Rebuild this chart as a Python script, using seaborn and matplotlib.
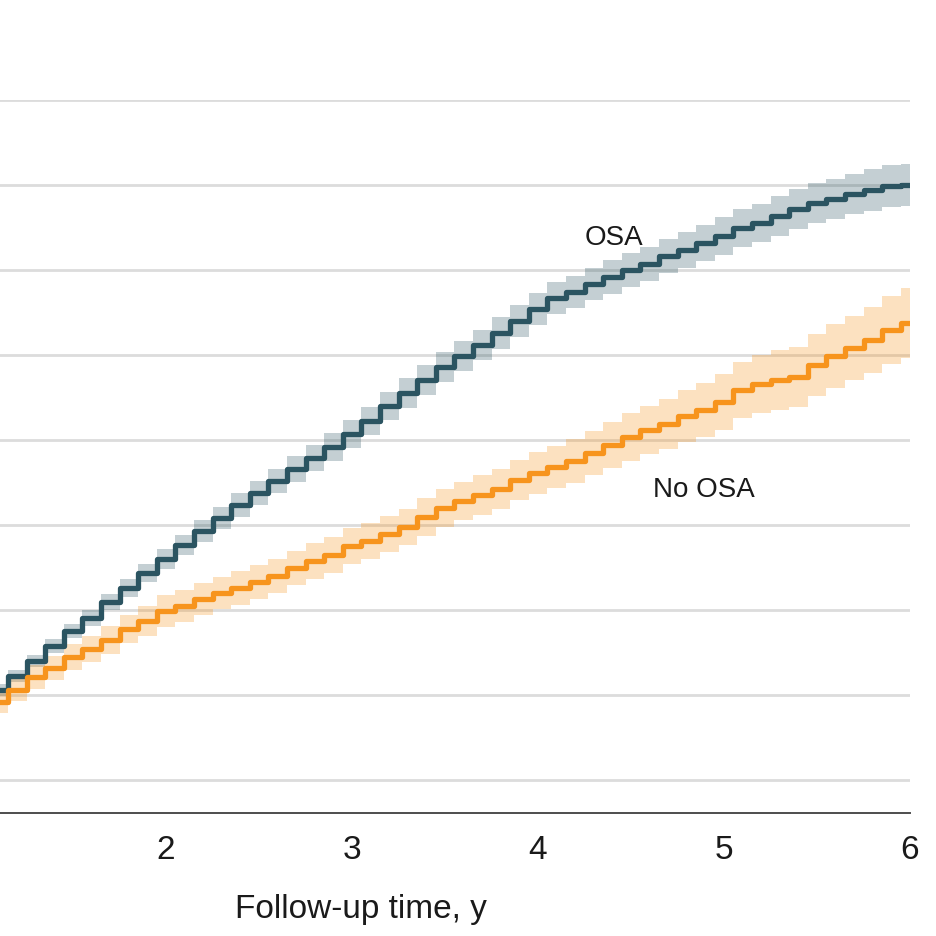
import numpy as np
import pandas as pd
import matplotlib
matplotlib.use("Agg")
import matplotlib.pyplot as plt
import seaborn as sns

# -----------------------------
# DATA
# -----------------------------
years = [1.1, 1.2, 1.3, 1.4, 1.5, 1.6, 1.7, 1.8, 1.9, 2.0,
         2.1, 2.2, 2.3, 2.4, 2.5, 2.6, 2.7, 2.8, 2.9, 3.0,
         3.1, 3.2, 3.3, 3.4, 3.5, 3.6, 3.7, 3.8, 3.9, 4.0,
         4.1, 4.2, 4.3, 4.4, 4.5, 4.6, 4.7, 4.8, 4.9, 5.0,
         5.1, 5.2, 5.3, 5.4, 5.5, 5.6, 5.7, 5.8, 5.9, 6.0]

osa = [5.29, 6.12, 7.00, 7.88, 8.76, 9.53, 10.47, 11.29, 12.18, 13.00,
       13.82, 14.65, 15.41, 16.18, 16.88, 17.59, 18.29, 18.94, 19.59, 20.35,
       21.12, 22.00, 22.76, 23.53, 24.29, 24.94, 25.59, 26.29, 27.00, 27.71,
       28.35, 28.71, 29.18, 29.59, 30.00, 30.35, 30.82, 31.18, 31.59, 32.00,
       32.47, 32.76, 33.18, 33.59, 33.94, 34.18, 34.47, 34.71, 34.94, 35.00]

no_osa = [4.59, 5.29, 6.06, 6.59, 7.24, 7.71, 8.24, 8.88, 9.35, 9.94,
          10.24, 10.65, 11.00, 11.29, 11.65, 12.00, 12.47, 12.88, 13.24, 13.76,
          14.06, 14.47, 14.88, 15.47, 16.00, 16.41, 16.76, 17.12, 17.65, 18.06,
          18.41, 18.76, 19.24, 19.71, 20.18, 20.59, 20.94, 21.41, 21.76, 22.24,
          22.94, 23.29, 23.53, 23.71, 24.41, 24.94, 25.41, 25.88, 26.47, 26.88]

# half-width of the 95% CI bands
osa_ci = [0.35, 0.35, 0.35, 0.41, 0.41, 0.47, 0.47, 0.53, 0.53, 0.59,
          0.59, 0.65, 0.65, 0.71, 0.71, 0.71, 0.76, 0.76, 0.82, 0.82,
          0.82, 0.82, 0.88, 0.88, 0.88, 0.88, 0.88, 0.94, 0.94, 0.94,
          0.94, 0.94, 0.94, 1.00, 1.00, 1.00, 1.00, 1.06, 1.06, 1.12,
          1.12, 1.12, 1.18, 1.18, 1.18, 1.18, 1.18, 1.24, 1.24, 1.24]

no_osa_ci = [0.65, 0.65, 0.71, 0.71, 0.76, 0.76, 0.82, 0.82, 0.88, 0.94,
             0.94, 0.94, 0.94, 1.00, 1.00, 1.00, 1.00, 1.06, 1.06, 1.06,
             1.06, 1.06, 1.06, 1.12, 1.12, 1.12, 1.18, 1.18, 1.18, 1.24,
             1.24, 1.29, 1.29, 1.35, 1.41, 1.41, 1.47, 1.53, 1.59, 1.65,
             1.65, 1.71, 1.76, 1.76, 1.82, 1.88, 1.88, 1.94, 2.00, 2.06]

groups = ["OSA", "No OSA"]
colors = {"OSA": "#2B5461", "No OSA": "#F7941D"}
x_ticks = [2, 3, 4, 5, 6]
y_grid = [0, 5, 10, 15, 20, 25, 30, 35, 40]

df = pd.DataFrame({
    "year": years * 2,
    "value": osa + no_osa,
    "ci": osa_ci + no_osa_ci,
    "group": ["OSA"] * len(years) + ["No OSA"] * len(years),
})

# -----------------------------
# PLOT
# -----------------------------
sns.set_theme(style="white")
plt.rcParams["font.family"] = ["Liberation Sans", "DejaVu Sans"]

fig = plt.figure(figsize=(9.36, 9.36), dpi=100)
# axes extends past the left edge: the reference is a crop
ax = fig.add_axes([-206 / 936, 123 / 936, 1116 / 936, 713 / 936])

for g in groups:
    sub = df[df["group"] == g]
    ax.fill_between(sub["year"], sub["value"] - sub["ci"], sub["value"] + sub["ci"],
                    step="mid", color=colors[g], alpha=0.28, linewidth=0, zorder=2)

sns.lineplot(data=df, x="year", y="value", hue="group", palette=colors,
             drawstyle="steps-mid", linewidth=3.8, legend=False, ax=ax,
             errorbar=None, zorder=3)

ax.set_xlim(0, 6)
ax.set_ylim(-1.94, 40)
ax.set_xticks(x_ticks)
ax.set_yticks(y_grid)
ax.yaxis.grid(True, color="#DCDCDC", linewidth=2, zorder=0)
ax.set_axisbelow(True)

for s in ["top", "right", "left"]:
    ax.spines[s].set_visible(False)
ax.spines["bottom"].set_color("#4D4D4D")
ax.spines["bottom"].set_linewidth(1.4)

ax.tick_params(axis="x", direction="out", length=7, width=1.1, color="#4D4D4D",
               labelsize=24, pad=9, labelcolor="#1A1A1A")
ax.tick_params(axis="y", length=0, labelleft=False)

ax.set_xlabel("Follow-up time, y", fontsize=24, color="#1A1A1A", labelpad=20, x=0.508)
ax.set_ylabel("")

ax.text(4.253, 31.47, "OSA", fontsize=20, color="#1A1A1A", ha="left", va="baseline")
ax.text(4.618, 16.65, "No OSA", fontsize=20, color="#1A1A1A", ha="left", va="baseline")

plt.savefig("out.png", dpi=100)
print("Saved out.png")
